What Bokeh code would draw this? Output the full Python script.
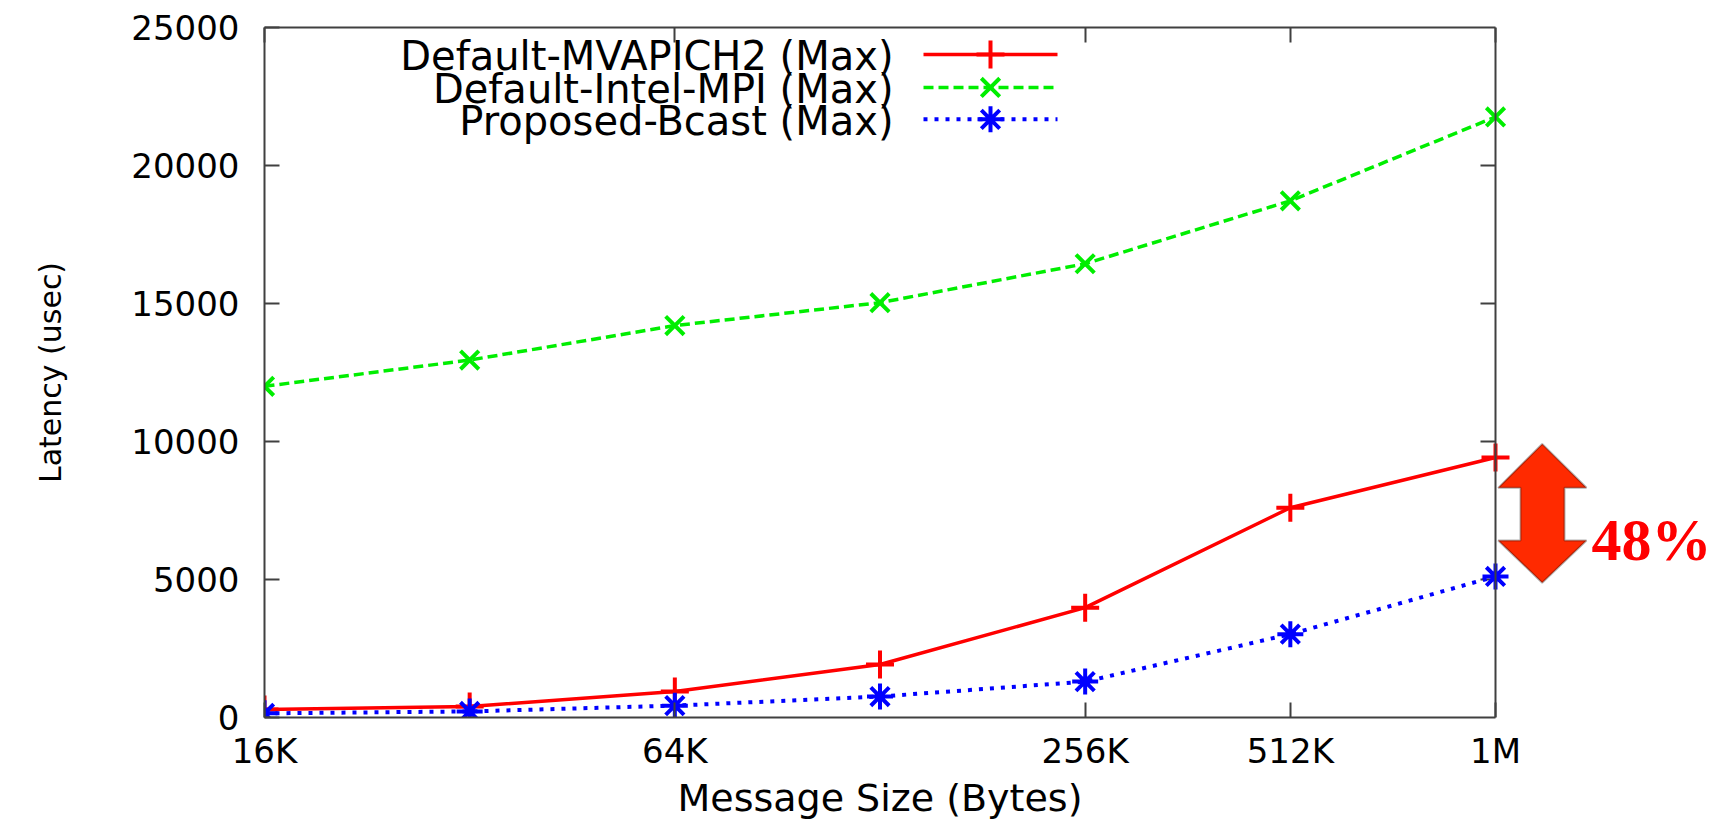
import numpy as np
from bokeh.plotting import figure
from bokeh.models import LogAxis, FixedTicker, Label, PolyAnnotation, Range1d, Span, Title
from bokeh.embed import file_html
from bokeh.resources import INLINE

# Broadcast latency (usec) for each message size, maximum over ranks
sizes = [16384, 32768, 65536, 131072, 262144, 524288, 1048576]
mvapich2_max = [290, 400, 940, 1920, 3980, 7600, 9420]
intel_mpi_max = [12000, 12950, 14200, 15030, 16440, 18720, 21760]
proposed_max = [150, 220, 430, 760, 1300, 3020, 5110]

series_names = ["Default-MVAPICH2 (Max)", "Default-Intel-MPI (Max)", "Proposed-Bcast (Max)"]

x_tick_values = [16384, 65536, 262144, 524288, 1048576]
x_tick_labels = ["16K", "64K", "256K", "512K", "1M"]
y_tick_values = [0, 5000, 10000, 15000, 20000, 25000]
x_title = "Message Size (Bytes)"
y_title = "Latency (usec)"
improvement_label = "48%"

RED, GREEN, BLUE = "#ff0000", "#00ee00", "#0000ff"
AXIS_COLOR = "#404040"
FONT = "DejaVu Sans"

W, H = 1716, 819
LEFT, TOP, BOTTOM = 264, 27, 101
BOX_RIGHT = 1495          # right edge of the axes box; the frame runs on to the canvas edge
Y_MAX = 25000

FRAME_H = H - TOP - BOTTOM
PX_PER_DOUBLING = (BOX_RIGHT - LEFT) / np.log2(sizes[-1] / sizes[0])


def dx(px):
    """canvas x pixel -> message size on the log axis"""
    return sizes[0] * 2 ** ((px - LEFT) / PX_PER_DOUBLING)


def dy(py):
    """canvas y pixel -> latency"""
    return (H - BOTTOM - py) / FRAME_H * Y_MAX


p = figure(width=W, height=H, x_axis_type="log",
           x_range=Range1d(sizes[0], dx(W)), y_range=Range1d(0, Y_MAX),
           output_backend="svg", toolbar_location=None,
           min_border_left=LEFT, min_border_right=0,
           min_border_top=TOP, min_border_bottom=BOTTOM)
p.grid.visible = False
p.background_fill_color = "white"
p.border_fill_color = "white"
p.outline_line_color = None


def style_axis(ax, labels=True):
    ax.axis_line_color = AXIS_COLOR
    ax.axis_line_width = 2
    ax.major_tick_line_color = AXIS_COLOR
    ax.major_tick_line_width = 2
    ax.major_tick_in = 15
    ax.major_tick_out = 0
    ax.minor_tick_line_color = None
    ax.major_label_text_font = FONT
    ax.major_label_text_color = "black"
    if labels:
        ax.major_label_text_font_size = "34px"
    else:
        ax.major_label_text_font_size = "0px"
        ax.major_label_standoff = 0


xax = p.xaxis[0]
xax.ticker = FixedTicker(ticks=x_tick_values, minor_ticks=[])
xax.bounds = (sizes[0], sizes[-1])
xax.major_label_overrides = dict(zip(x_tick_values, x_tick_labels))
style_axis(xax)
xax.major_label_standoff = 13

# x title sits below the tick labels, centred under the axes box
x_title_font_px = 38
x_title_width = 10.66 * x_title_font_px
p.add_layout(Title(text=x_title, align="left",
                   offset=(BOX_RIGHT - LEFT) / 2 - x_title_width / 2,
                   text_font=FONT, text_font_size=f"{x_title_font_px}px",
                   text_font_style="normal", text_color="black", standoff=0),
             "below")

yax = p.yaxis[0]
yax.ticker = FixedTicker(ticks=y_tick_values, minor_ticks=[])
style_axis(yax)
yax.major_label_standoff = 25
yax.axis_label = y_title
yax.axis_label_text_font = FONT
yax.axis_label_text_font_size = "30px"
yax.axis_label_text_font_style = "normal"
yax.axis_label_text_color = "black"
yax.axis_label_standoff = 60

# top edge of the box, with mirrored ticks
top_ax = LogAxis(ticker=FixedTicker(ticks=x_tick_values, minor_ticks=[]),
                 bounds=(sizes[0], sizes[-1]))
style_axis(top_ax, labels=False)
top_ax.major_label_overrides = {t: "" for t in x_tick_values}
p.add_layout(top_ax, "above")

# right edge of the box at 1M, with inward ticks
p.add_layout(Span(location=sizes[-1], dimension="height",
                  line_color=AXIS_COLOR, line_width=2))
inner_ticks = y_tick_values[1:-1]
p.segment(x0=[sizes[-1]] * len(inner_ticks), y0=inner_ticks,
          x1=[dx(BOX_RIGHT - 15)] * len(inner_ticks), y1=inner_ticks,
          line_color=AXIS_COLOR, line_width=2)

# data series
styles = [
    dict(color=RED, dash="solid", lw=3.5, marker="cross", msize=28),
    dict(color=GREEN, dash="10 5", lw=3.5, marker="x", msize=26),
    dict(color=BLUE, dash="4 7", lw=4, marker="asterisk", msize=26),
]
for vals, st in zip([mvapich2_max, intel_mpi_max, proposed_max], styles):
    p.line(sizes, vals, line_color=st["color"], line_width=st["lw"], line_dash=st["dash"])
    p.scatter(sizes, vals, marker=st["marker"], size=st["msize"],
              line_color=st["color"], line_width=4)

# key: right-aligned text followed by a line sample with its marker
rows = [54, 87, 119]
for name, st, ry in zip(series_names, styles, rows):
    p.add_layout(Label(x=dx(893), y=dy(ry + 2), text=name, text_align="right",
                       text_baseline="middle", text_font=FONT,
                       text_font_size="40px", text_color="black"))
    p.line([dx(923), dx(1057)], [dy(ry), dy(ry)], line_color=st["color"],
           line_width=st["lw"], line_dash=st["dash"])
    p.scatter([dx(990)], [dy(ry)], marker=st["marker"], size=st["msize"],
              line_color=st["color"], line_width=4)

# double-headed arrow beside the 1M points with the improvement figure
arrow_px = [(1541.7, 444), (1586, 488), (1564, 488), (1564, 540.7), (1586, 540.7),
            (1541.7, 583), (1497.7, 540.7), (1520, 540.7), (1520, 488), (1497.7, 488)]
p.add_layout(PolyAnnotation(xs=[dx(a) for a, b in arrow_px], ys=[dy(b) for a, b in arrow_px],
                            fill_color="#ff2a00", fill_alpha=1.0,
                            line_color="black", line_width=2, level="overlay"))
p.add_layout(Label(x=dx(1591), y=dy(540), text=improvement_label, text_align="left",
                   text_baseline="alphabetic", text_font="Liberation Serif",
                   text_font_style="bold", text_font_size="60px", text_color=RED))

open("out.html", "w").write(file_html(p, INLINE))
